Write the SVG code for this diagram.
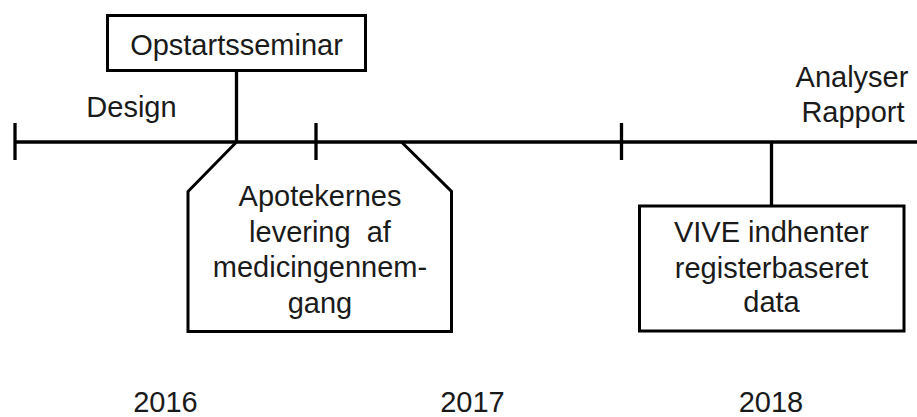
<svg xmlns="http://www.w3.org/2000/svg" width="917" height="417" viewBox="0 0 917 417">
<style>
  .ln { stroke: #000; stroke-width: 3.3; fill: none; }
  .box { stroke: #000; stroke-width: 3; fill: #fff; }
  .open { stroke: #000; stroke-width: 3; fill: none; }
  text { font-family: "Liberation Sans", Arial, sans-serif; font-size: 29px; fill: #1a1a1a; text-anchor: middle; }
</style>
<rect width="917" height="417" fill="#fff"/>
<g id="connectors">
  <line class="ln" x1="15" y1="142" x2="917" y2="142"/>
  <line class="ln" x1="15" y1="123" x2="15" y2="160"/>
  <line class="ln" x1="316" y1="123" x2="316" y2="160"/>
  <line class="ln" x1="621.5" y1="123" x2="621.5" y2="160"/>
  <line class="ln" x1="236.5" y1="70" x2="236.5" y2="142"/>
  <line class="ln" x1="771.5" y1="142" x2="771.5" y2="206"/>
</g>
<g id="opstart">
  <rect class="box" x="107.5" y="15.5" width="258" height="55"/>
  <text x="236.5" y="54.5">Opstartsseminar</text>
</g>
<g id="design">
  <text x="131.5" y="117">Design</text>
</g>
<g id="analyser">
  <text x="852" y="87">Analyser</text>
  <text x="853" y="121.5">Rapport</text>
</g>
<g id="apotek">
  <path class="open" d="M236.5,142 L188,191.5 L188,331.5 L451.5,331.5 L451.5,191.5 L401.5,142"/>
  <text x="320" y="206">Apotekernes</text>
  <text x="320" y="241.5" xml:space="preserve">levering  af</text>
  <text x="320" y="277">medicingennem-</text>
  <text x="320" y="312.5">gang</text>
</g>
<g id="vive">
  <rect class="box" x="639.5" y="206" width="264.5" height="125"/>
  <text x="771.5" y="241.5">VIVE indhenter</text>
  <text x="771.5" y="278">registerbaseret</text>
  <text x="771.5" y="312">data</text>
</g>
<g id="years">
  <text x="165.5" y="412">2016</text>
  <text x="472.5" y="412">2017</text>
  <text x="771" y="412">2018</text>
</g>
</svg>
